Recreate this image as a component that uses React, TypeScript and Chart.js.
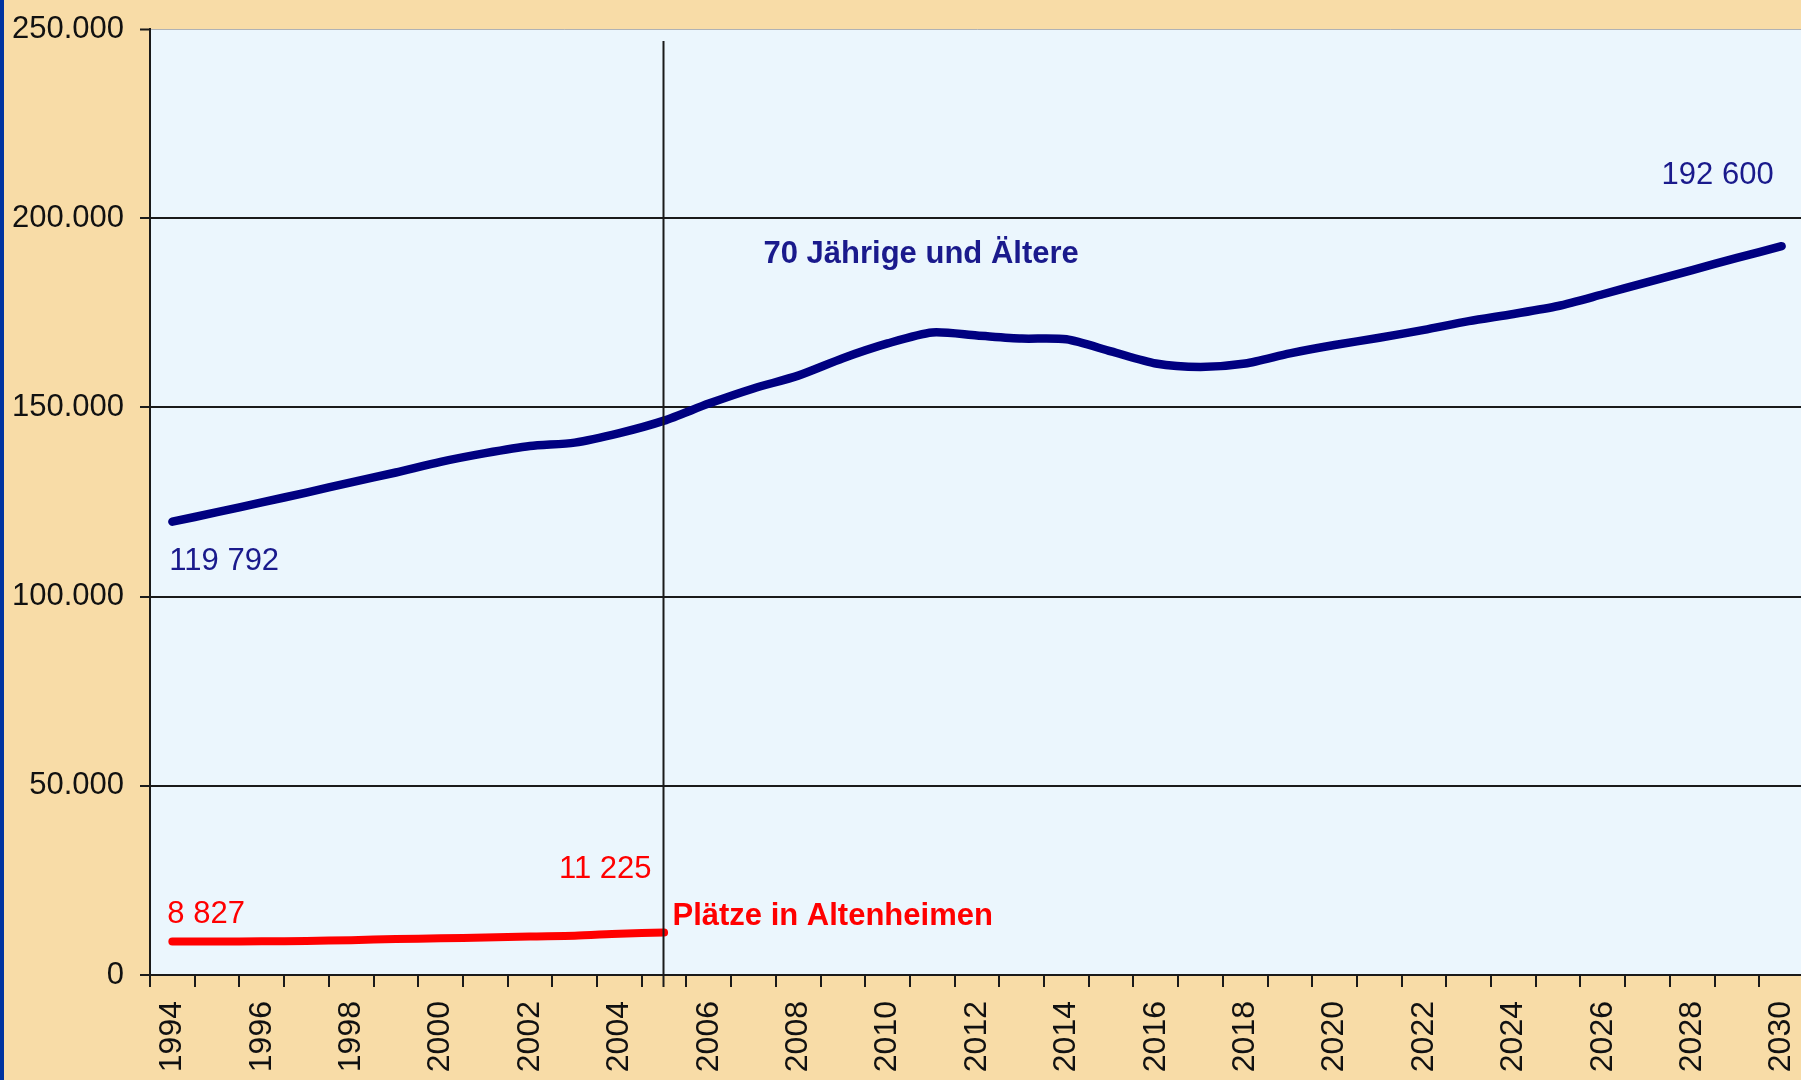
import React, { useEffect, useRef } from "react";
import { Chart, registerables } from "chart.js";

Chart.register(...registerables);

const years: string[] = [];
for (let y = 1994; y <= 2030; y++) years.push(String(y));

const seniors: number[] = [
  119792, 122300, 124900, 127500, 130200, 132800, 135600, 137900, 139800, 140700,
  143200, 146500, 151000, 155000, 158400, 163000, 166900, 169800, 169000, 168200,
  168000, 164800, 161600, 160700, 161600, 164300, 166500, 168400, 170500, 172800,
  174700, 176800, 179900, 183100, 186300, 189500, 192600,
];

const places: (number | null)[] = [
  8827, 8850, 8900, 9000, 9200, 9500, 9700, 9900, 10200, 10400, 10900, 11225,
  null, null, null, null, null, null, null, null, null, null, null, null, null,
  null, null, null, null, null, null, null, null, null, null, null, null,
];

const yTicks: number[] = [0, 50000, 100000, 150000, 200000, 250000];

const seniorsLabel = "70 Jährige und Ältere";
const placesLabel = "Plätze in Altenheimen";
const markerYear = "2005";

const FONT = "'Liberation Sans', Arial, sans-serif";
const NAVY = "#000080";
const NAVY_TEXT = "#1a1a8c";
const RED = "#ff0000";

function fmt(v: number): string {
  const s = String(Math.round(v));
  return s.replace(/\B(?=(\d{3})+(?!\d))/g, ".");
}
function fmtSpace(v: number): string {
  const s = String(Math.round(v));
  return s.replace(/\B(?=(\d{3})+(?!\d))/g, " ");
}

const decorPlugin = {
  id: "decor",
  beforeDraw(chart: any) {
    const { ctx, chartArea, width, height } = chart;
    ctx.save();
    ctx.fillStyle = "#f8dca7";
    ctx.fillRect(0, 0, width, height);
    ctx.fillStyle = "#0033a0";
    ctx.fillRect(0, 0, 4, height);
    ctx.fillStyle = "#ebf6fd";
    ctx.fillRect(chartArea.left, chartArea.top, chartArea.right - chartArea.left, chartArea.bottom - chartArea.top);
    ctx.restore();
  },
  afterDatasetsDraw(chart: any) {
    const { ctx } = chart;
    const xs = chart.scales.x;
    const ys = chart.scales.y;
    const mi = years.indexOf(markerYear);
    const mx = Math.round(xs.getPixelForValue(mi)) - 0.5;
    ctx.save();
    ctx.strokeStyle = "#1a1a1a";
    ctx.lineWidth = 2;
    ctx.beginPath();
    ctx.moveTo(mx, ys.getPixelForValue(246800));
    ctx.lineTo(mx, ys.bottom + 12);
    ctx.stroke();

    ctx.textBaseline = "middle";
    ctx.fillStyle = NAVY_TEXT;
    ctx.font = `31px ${FONT}`;
    ctx.textAlign = "left";
    ctx.fillText(fmtSpace(seniors[0]), xs.getPixelForValue(0) - 3, ys.getPixelForValue(seniors[0]) + 40);
    ctx.textAlign = "right";
    const last = seniors.length - 1;
    ctx.fillText(fmtSpace(seniors[last]), xs.getPixelForValue(last) - 8, ys.getPixelForValue(seniors[last]) - 71);
    ctx.font = `bold 31px ${FONT}`;
    ctx.textAlign = "left";
    ctx.fillText(seniorsLabel, xs.getPixelForValue(13) + 10, ys.getPixelForValue(190500));

    ctx.fillStyle = RED;
    ctx.font = `31px ${FONT}`;
    ctx.textAlign = "left";
    ctx.fillText(fmtSpace(places[0] as number), xs.getPixelForValue(0) - 5, ys.getPixelForValue(16100));
    ctx.textAlign = "right";
    ctx.fillText(fmtSpace(places[mi] as number), mx - 12, ys.getPixelForValue(28000));
    ctx.font = `bold 31px ${FONT}`;
    ctx.textAlign = "left";
    ctx.fillText(placesLabel, mx + 9, ys.getPixelForValue(15600));
    ctx.restore();
  },
};

export default function App() {
  const ref = useRef<HTMLCanvasElement | null>(null);
  useEffect(() => {
    if (!ref.current) return;
    const chart = new Chart(ref.current, {
      type: "line",
      data: {
        labels: years,
        datasets: [
          {
            label: placesLabel,
            data: places,
            borderColor: RED,
            borderWidth: 8,
            borderCapStyle: "round",
            pointRadius: 0,
            tension: 0.25,
            spanGaps: false,
          },
          {
            label: seniorsLabel,
            data: seniors,
            borderColor: NAVY,
            borderWidth: 8.5,
            borderCapStyle: "round",
            borderJoinStyle: "round",
            pointRadius: 0,
            tension: 0.25,
          },
        ],
      },
      options: {
        responsive: false,
        animation: false,
        devicePixelRatio: 1,
        layout: { padding: { top: 29, left: 0, right: 0, bottom: 0 } },
        plugins: {
          legend: { display: false },
          tooltip: { enabled: false },
          title: { display: false },
        },
        scales: {
          x: {
            type: "category",
            offset: true,
            afterFit(scale: any) {
              scale.height = 105;
              scale.paddingLeft = 0;
              scale.paddingRight = 0;
            },
            grid: {
              offset: true,
              drawOnChartArea: false,
              drawTicks: true,
              tickLength: 12,
              color: "#1a1a1a",
              lineWidth: 2,
            },
            border: { display: true, color: "#1a1a1a", width: 2 },
            ticks: {
              autoSkip: false,
              maxRotation: 90,
              minRotation: 90,
              padding: 14,
              color: "#111111",
              font: { family: FONT, size: 32 },
              callback: (_v: any, i: number) => (i % 2 === 0 ? years[i] : ""),
            },
          },
          y: {
            min: 0,
            max: 250000,
            afterFit(scale: any) {
              scale.width = 150;
              scale.paddingTop = 0;
              scale.paddingBottom = 0;
            },
            afterBuildTicks(scale: any) {
              scale.ticks = yTicks.map((v) => ({ value: v }));
            },
            grid: {
              drawTicks: true,
              tickLength: 10,
              color: (c: any) => (c.tick && c.tick.value === 250000 ? "rgba(150,150,150,0.7)" : "#1a1a1a"),
              lineWidth: (c: any) => (c.tick && c.tick.value === 250000 ? 1 : 2),
              tickColor: "#1a1a1a",
              tickWidth: 2,
            },
            border: { display: true, color: "#1a1a1a", width: 2 },
            ticks: {
              padding: 16,
              color: "#111111",
              font: { family: FONT, size: 31 },
              callback: (v: any) => fmt(Number(v)),
            },
          },
        },
      },
      plugins: [decorPlugin],
    } as any);
    return () => chart.destroy();
  }, []);
  return (
    <div style={{ position: "fixed", left: 0, top: 0, width: 1801, height: 1080, overflow: "hidden" }}>
      <canvas ref={ref} width={1804} height={1080} style={{ display: "block" }} />
    </div>
  );
}
